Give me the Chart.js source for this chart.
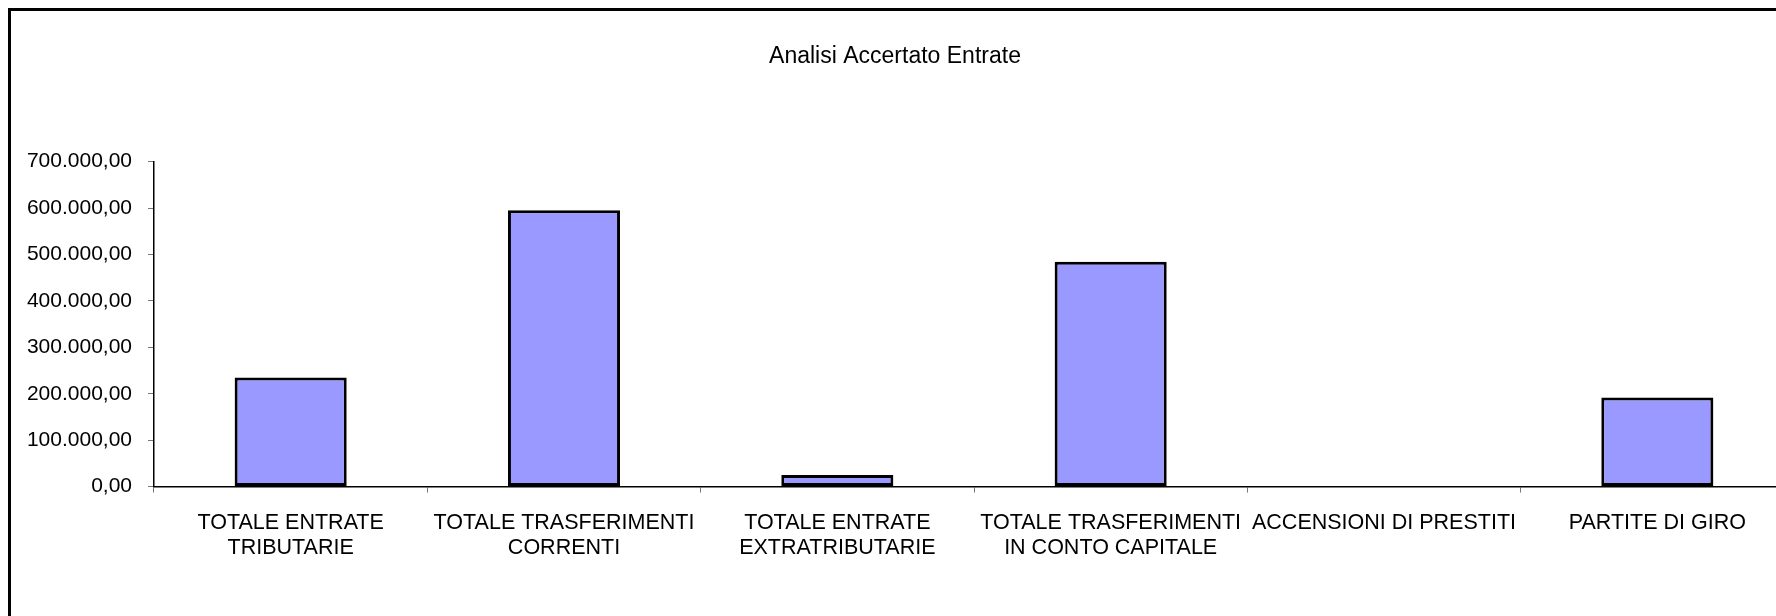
<!DOCTYPE html>
<html>
<head>
<meta charset="utf-8">
<script src="https://cdn.jsdelivr.net/npm/chart.js@4/dist/chart.umd.min.js"></script>
<style>
  html, body { margin: 0; padding: 0; background: #fff; overflow: hidden; width: 1776px; height: 616px; }
  #frame { position: absolute; left: 8px; top: 8px; width: 2000px; height: 900px; border: 3px solid #000; background: #fff; }
  #c { position: absolute; left: -20px; top: 0px; z-index: 2; }
</style>
</head>
<body>
<div id="frame"></div>
<canvas id="c" width="1900" height="616"></canvas>
<script>
const chartTitle = 'Analisi Accertato Entrate';
const categories = [
  ['TOTALE ENTRATE', 'TRIBUTARIE'],
  ['TOTALE TRASFERIMENTI', 'CORRENTI'],
  ['TOTALE ENTRATE', 'EXTRATRIBUTARIE'],
  ['TOTALE TRASFERIMENTI', 'IN CONTO CAPITALE'],
  'ACCENSIONI DI PRESTITI',
  'PARTITE DI GIRO'
];
const accertato = [235000, 595000, 25000, 484000, 0, 192000];
const yTickValues = [0, 100000, 200000, 300000, 400000, 500000, 600000, 700000];
const yTickLabels = ['0,00', '100.000,00', '200.000,00', '300.000,00', '400.000,00', '500.000,00', '600.000,00', '700.000,00'];

const FONT = 'Liberation Sans, Arial, sans-serif';

new Chart(document.getElementById('c'), {
  type: 'bar',
  data: {
    labels: categories,
    datasets: [{
      label: 'Accertato',
      data: accertato,
      backgroundColor: '#9999FF',
      borderColor: '#000000',
      borderWidth: 3,
      borderSkipped: false,
      categoryPercentage: 1.0,
      barPercentage: 0.41
    }]
  },
  options: {
    responsive: false,
    animation: false,
    devicePixelRatio: 1,
    layout: { padding: { left: 16, right: 86, top: 0, bottom: 38 } },
    plugins: {
      legend: { display: false },
      tooltip: { enabled: false },
      title: {
        display: true,
        text: chartTitle,
        color: '#000',
        font: { family: FONT, size: 23, weight: 'normal' },
        padding: { top: 43, bottom: 91 }
      }
    },
    scales: {
      x: {
        offset: true,
        grid: { offset: true, drawOnChartArea: false, drawTicks: true, tickLength: 6, tickColor: '#777' },
        border: { color: '#000', width: 1.5 },
        ticks: {
          autoSkip: false, maxRotation: 0, minRotation: 0,
          color: '#000', padding: 18,
          font: { family: FONT, size: 21.5, lineHeight: 1.15 }
        }
      },
      y: {
        min: 0, max: 700000,
        afterFit: (s) => { s.width = 158; },
        afterBuildTicks: (s) => { s.ticks = yTickValues.map(v => ({ value: v })); },
        grid: { drawOnChartArea: false, drawTicks: true, tickLength: 6, tickColor: '#777' },
        border: { color: '#000', width: 1.5 },
        ticks: {
          color: '#000', padding: 16,
          font: { family: FONT, size: 21 },
          callback: (v) => { const i = yTickValues.indexOf(v); return i >= 0 ? yTickLabels[i] : ''; }
        }
      }
    }
  }
});
</script>
</body>
</html>
